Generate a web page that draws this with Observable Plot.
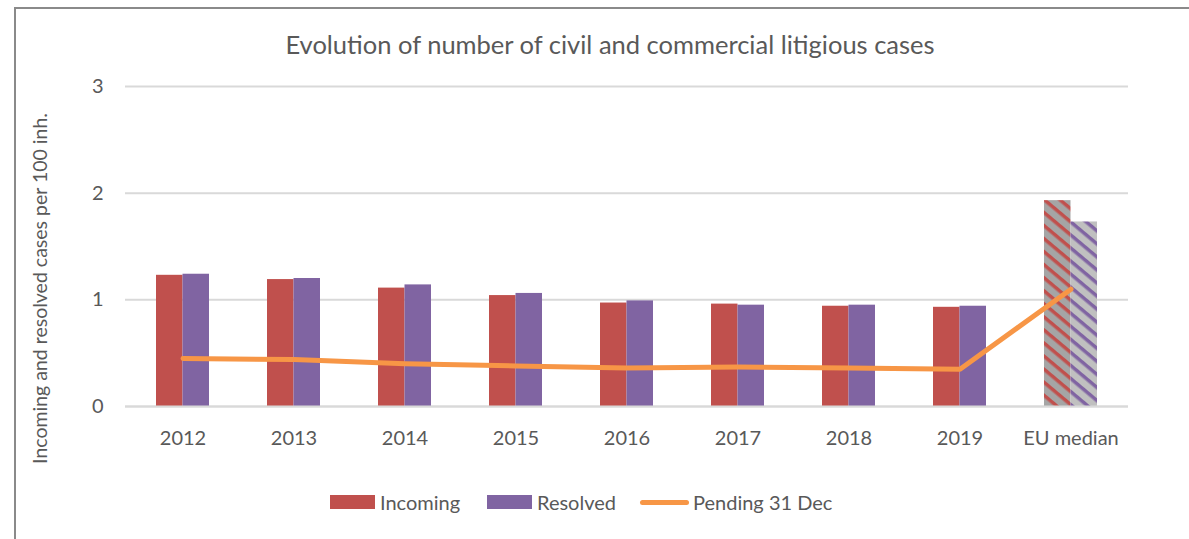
<!DOCTYPE html>
<html>
<head>
<meta charset="utf-8">
<script src="https://cdn.jsdelivr.net/npm/d3@7"></script>
<script src="https://cdn.jsdelivr.net/npm/@observablehq/plot@0.6"></script>
<style>
  html, body { margin: 0; padding: 0; background: #fff; }
  #wrap { position: relative; width: 1189px; height: 539px; overflow: hidden; font-family: Lato, "Open Sans", sans-serif; color: #595959; }
  #frame { position: absolute; left: 14px; top: 7px; width: 1300px; height: 700px; border: 2px solid #8a8a8a; box-sizing: border-box; }
  #title { position: absolute; top: 29px; left: 0; width: 1220px; text-align: center; font-size: 25.5px; color: #595959; }
  #chart { position: absolute; left: 0; top: 0; }
  .lg { position: absolute; top: 490px; height: 24px; line-height: 24px; font-size: 20px; color: #595959; white-space: nowrap; }
  .sw { position: absolute; top: 495px; width: 45px; height: 14px; }
  .ln { position: absolute; top: 499.5px; width: 49px; height: 5px; border-radius: 3px; background: #f79646; }
</style>
</head>
<body>
<div id="wrap">
  <div id="frame"></div>
  <div id="chart"></div>
  <div id="title">Evolution of number of civil and commercial litigious cases</div>
  <span class="sw" style="left:330px;background:#c0504d"></span><span class="lg" style="left:380px">Incoming</span>
  <span class="sw" style="left:487px;background:#8064a2"></span><span class="lg" style="left:537px">Resolved</span>
  <span class="ln" style="left:640px"></span><span class="lg" style="left:693px">Pending 31 Dec</span>
</div>
<script>
const categories = ["2012","2013","2014","2015","2016","2017","2018","2019","EU median"];
const incoming = [1.23, 1.19, 1.11, 1.04, 0.97, 0.96, 0.94, 0.93, 1.93];
const resolved = [1.24, 1.20, 1.14, 1.06, 0.99, 0.95, 0.95, 0.94, 1.73];
const pending  = [0.45, 0.44, 0.40, 0.38, 0.36, 0.37, 0.36, 0.35, 1.10];
const yTicks = [0, 1, 2, 3];

const incRows = categories.map((c, i) => ({cat: c, v: incoming[i], eu: c === "EU median"}));
const resRows = categories.map((c, i) => ({cat: c, v: resolved[i], eu: c === "EU median"}));
const penRows = categories.map((c, i) => ({cat: c, v: pending[i]}));

const half = 26.5;
const plot = Plot.plot({
  width: 1189,
  height: 539,
  marginLeft: 125,
  marginRight: 61,
  marginTop: 86,
  marginBottom: 133,
  style: {fontFamily: "Lato, 'Open Sans', sans-serif", fontSize: "20px", color: "#595959", background: "transparent"},
  x: {domain: categories, paddingInner: 0.524, paddingOuter: 0.262, label: null, tickSize: 0, tickPadding: 24},
  y: {domain: [0, 3], ticks: yTicks, tickFormat: d3.format("d"), label: "Incoming and resolved cases per 100 inh.",
      labelAnchor: "center", labelArrow: "none", labelOffset: 92, tickSize: 0, tickPadding: 22},
  marks: [
    Plot.gridY(yTicks, {stroke: "#d9d9d9", strokeOpacity: 1, strokeWidth: 2}),
    Plot.barY(incRows, {x: "cat", y: "v", fill: d => d.eu ? "url(#patInc)" : "#c0504d", insetRight: half, insetLeft: 0}),
    Plot.barY(resRows, {x: "cat", y: "v", fill: d => d.eu ? "url(#patRes)" : "#8064a2", insetLeft: half, insetRight: 0}),
    Plot.ruleY([0], {stroke: "#d9d9d9", strokeWidth: 2}),
    Plot.lineY(penRows, {x: "cat", y: "v", stroke: "#f79646", strokeWidth: 5, strokeLinecap: "round", strokeLinejoin: "round"})
  ]
});
// patterns for EU median bars
const defs = d3.select(plot).insert("defs", ":first-child");
function pat(id, bg, fg) {
  const p = defs.append("pattern").attr("id", id).attr("patternUnits", "userSpaceOnUse")
    .attr("width", 10).attr("height", 10).attr("patternTransform", "rotate(40)");
  p.append("rect").attr("width", 10).attr("height", 10).attr("fill", bg);
  p.append("rect").attr("width", 10).attr("height", 3.5).attr("fill", fg);
}
pat("patInc", "#a5a5a5", "#c0504d");
pat("patRes", "#c0c0c0", "#8064a2");
d3.select(plot).selectAll("g[aria-label='y-axis label'] text").attr("font-size", 19.5).attr("dx", -42);
document.getElementById("chart").appendChild(plot);
</script>
</body>
</html>
